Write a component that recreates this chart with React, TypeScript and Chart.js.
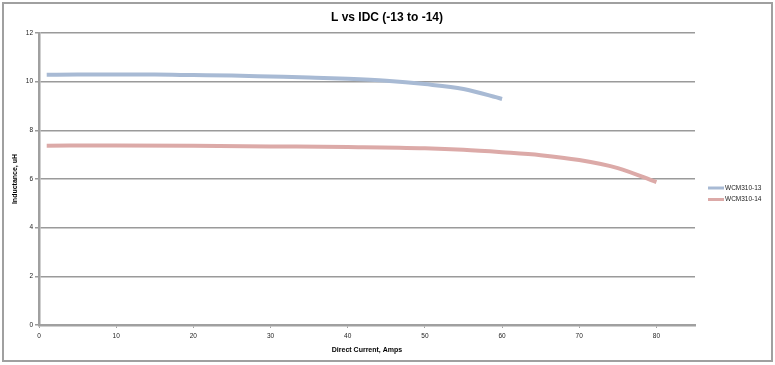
import React, { useEffect, useRef } from "react";
import { Chart, registerables } from "chart.js";

Chart.register(...registerables);

const TITLE = "L vs IDC (-13 to -14)";
const X_TITLE = "Direct Current, Amps";
const Y_TITLE = "Inductance, uH";

const seriesNames = ["WCM310-13", "WCM310-14"];
const seriesColors = ["#a8bad4", "#dcaaa8"];

const x13 = [1, 5, 10, 15, 20, 25, 30, 35, 40, 45, 50, 55, 60];
const y13 = [10.28, 10.29, 10.29, 10.29, 10.27, 10.25, 10.21, 10.17, 10.12, 10.04, 9.9, 9.7, 9.29];

const x14 = [1, 10, 20, 30, 40, 50, 55, 60, 65, 70, 75, 80];
const y14 = [7.37, 7.38, 7.37, 7.34, 7.31, 7.26, 7.2, 7.1, 6.98, 6.78, 6.45, 5.87];

const X_MIN = 0;
const X_MAX = 85;
const X_STEP = 10;
const Y_MIN = 0;
const Y_MAX = 12;
const Y_STEP = 2;

const FONT = "'Liberation Sans', Arial, Helvetica, sans-serif";

const framePlugin = {
  id: "frame",
  beforeDraw(chart: any) {
    const { ctx, width, height } = chart;
    ctx.save();
    ctx.fillStyle = "#ffffff";
    ctx.fillRect(0, 0, width, height);
    ctx.strokeStyle = "#a0a0a0";
    ctx.lineWidth = 2;
    ctx.strokeRect(3, 3, width - 6, height - 7);
    ctx.restore();
  },
  afterDraw(chart: any) {
    const { ctx, chartArea } = chart;
    ctx.save();
    // title
    ctx.fillStyle = "#000000";
    ctx.font = `bold 12px ${FONT}`;
    ctx.textAlign = "center";
    ctx.textBaseline = "middle";
    ctx.fillText(TITLE, 387, 18);
    // legend
    ctx.font = `6.5px ${FONT}`;
    ctx.textAlign = "left";
    chart.data.datasets.forEach((ds: any, i: number) => {
      const y = 188 + i * 11.5;
      ctx.strokeStyle = ds.borderColor;
      ctx.lineWidth = 3;
      ctx.beginPath();
      ctx.moveTo(chartArea.right + 13, y);
      ctx.lineTo(chartArea.right + 29, y);
      ctx.stroke();
      ctx.fillStyle = "#222222";
      ctx.fillText(ds.label, chartArea.right + 30, y);
    });
    ctx.restore();
  },
};

export default function App() {
  const ref = useRef<HTMLCanvasElement | null>(null);
  useEffect(() => {
    if (!ref.current) return;
    const chart = new Chart(ref.current, {
      type: "scatter",
      data: {
        datasets: [
          {
            label: seriesNames[0],
            data: x13.map((x, i) => ({ x, y: y13[i] })),
            borderColor: seriesColors[0],
            backgroundColor: seriesColors[0],
            borderWidth: 4,
            showLine: true,
            pointRadius: 0,
            tension: 0.4,
            cubicInterpolationMode: "monotone",
          },
          {
            label: seriesNames[1],
            data: x14.map((x, i) => ({ x, y: y14[i] })),
            borderColor: seriesColors[1],
            backgroundColor: seriesColors[1],
            borderWidth: 4,
            showLine: true,
            pointRadius: 0,
            tension: 0.4,
            cubicInterpolationMode: "monotone",
          },
        ],
      },
      options: {
        animation: false,
        responsive: false,
        maintainAspectRatio: false,
        layout: { padding: { left: 0, right: 80, top: 33, bottom: 0 } },
        plugins: {
          legend: { display: false },
          title: { display: false },
          tooltip: { enabled: false },
        },
        scales: {
          x: {
            type: "linear",
            min: X_MIN,
            max: X_MAX,
            afterFit: (s: any) => {
              s.height = 40;
            },
            ticks: {
              stepSize: X_STEP,
              includeBounds: false,
              color: "#222",
              font: { family: FONT, size: 6.5 },
              padding: 4,
              maxRotation: 0,
            },
            grid: {
              drawOnChartArea: false,
              drawTicks: true,
              tickLength: 3,
              color: "#a0a0a0",
              lineWidth: 1,
            },
            border: { color: "#a0a0a0", width: 2.5 },
            title: {
              display: true,
              text: X_TITLE,
              color: "#000",
              font: { family: FONT, size: 7, weight: "bold" },
              padding: { top: 0, bottom: 11 },
            },
          },
          y: {
            type: "linear",
            min: Y_MIN,
            max: Y_MAX,
            afterFit: (s: any) => {
              s.width = 39;
            },
            ticks: {
              stepSize: Y_STEP,
              color: "#222",
              font: { family: FONT, size: 6.5 },
              padding: 2,
            },
            grid: {
              color: "#9a9a9a",
              lineWidth: 1.5,
              tickLength: 4,
            },
            border: { color: "#a0a0a0", width: 2.5 },
            title: {
              display: true,
              text: Y_TITLE,
              color: "#000",
              font: { family: FONT, size: 7, weight: "bold" },
              padding: { top: 11, bottom: 0 },
            },
          },
        },
      },
      plugins: [framePlugin],
    } as any);
    return () => chart.destroy();
  }, []);
  return (
    <div style={{ position: "absolute", left: 0, top: 0, width: 775, height: 365 }}>
      <canvas ref={ref} width={775} height={365} style={{ width: 775, height: 365, display: "block" }} />
    </div>
  );
}
